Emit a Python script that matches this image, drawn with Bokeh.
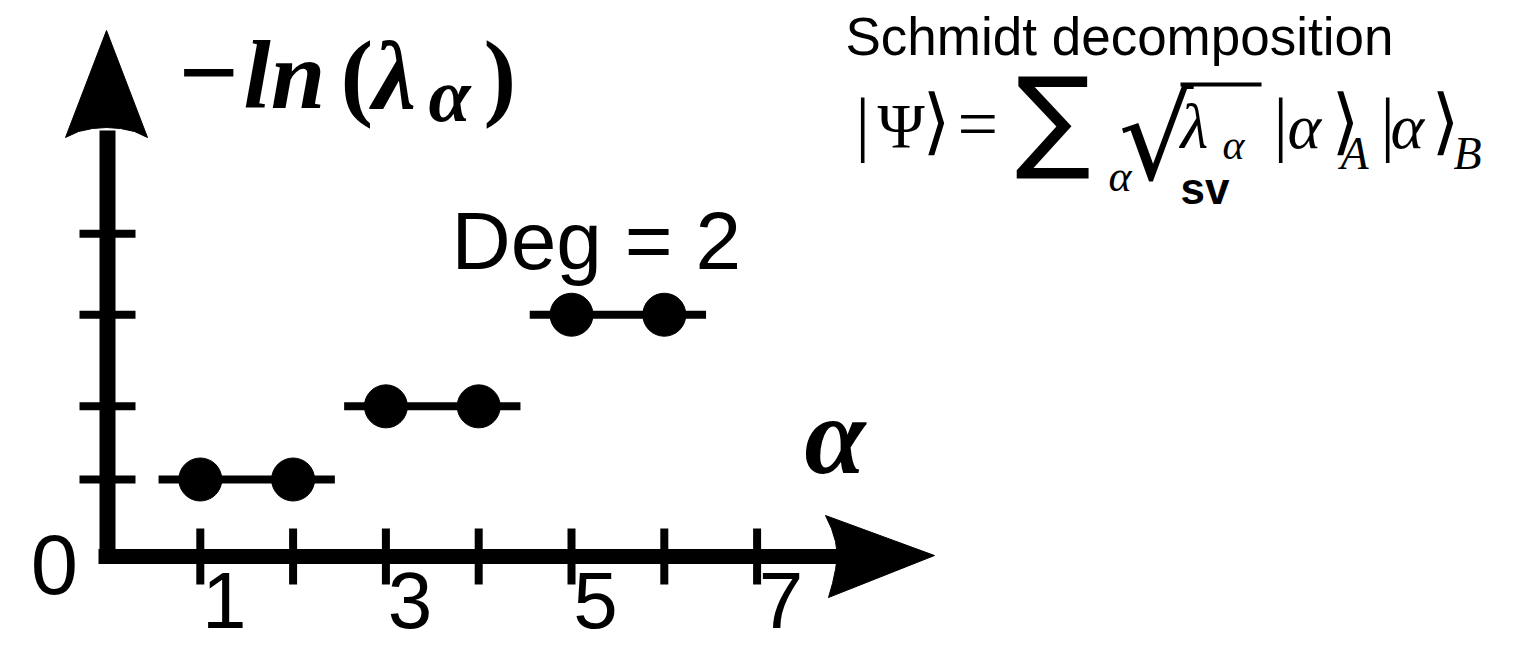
from bokeh.plotting import figure
from bokeh.models import Range1d, ColumnDataSource
from bokeh.core.properties import value
from bokeh.embed import file_html
from bokeh.resources import INLINE

# Schmidt values: each entanglement level appears twice (degeneracy 2)
alpha = [1, 2, 3, 4, 5, 6]
neg_ln_lambda = [1.0, 1.0, 1.95, 1.95, 3.14, 3.14]
degeneracy = 2

x_ticks = [1, 2, 3, 4, 5, 6, 7]
x_label_pos = [1, 3, 5, 7]
x_label_txt = ["1", "3", "5", "7"]
y_ticks = [1.0, 1.95, 3.14, 4.19]

W, H = 1532, 647
# canvas geometry: where the origin sits and how many pixels per unit
X0_PX, Y0_PX = 107.0, 556.0
UX, UY = 92.8, 77.0


def X(px):
    return (px - X0_PX) / UX


def Y(py):
    return (Y0_PX - py) / UY


p = figure(width=W, height=H, output_backend="svg", toolbar_location=None,
           x_range=Range1d(X(0), X(W)), y_range=Range1d(Y(H), Y(0)),
           x_axis_location=None, y_axis_location=None, min_border=0)
p.grid.visible = False
p.outline_line_color = None
p.background_fill_color = "white"
p.border_fill_color = "white"

# --- hand-drawn style axes -------------------------------------------------
x_end = X(838)
y_end = Y(130)
p.line([X(98), x_end], [0, 0], line_width=15, color="black", line_cap="butt")
p.line([0, 0], [Y(563), y_end], line_width=16, color="black", line_cap="butt")

# arrow heads with a slightly concave back
hx = [934, 825, 831, 835, 837, 835, 832, 828]
hy = [555, 515, 528, 541, 555, 569, 583, 597]
p.patch([X(v) for v in hx], [Y(v) for v in hy], color="black")
vx = [106, 147, 134, 120, 106, 92, 78, 65]
vy = [30, 137, 131, 128, 127, 128, 131, 137]
p.patch([X(v) for v in vx], [Y(v) for v in vy], color="black")

# tick marks
xt_half = 28 / UY
p.segment(x0=x_ticks, x1=x_ticks, y0=[-xt_half] * len(x_ticks),
          y1=[xt_half] * len(x_ticks), line_width=8, color="black")
yt_half = 28 / UX
p.segment(x0=[-yt_half] * len(y_ticks), x1=[yt_half] * len(y_ticks),
          y0=y_ticks, y1=y_ticks, line_width=8, color="black")

# --- degenerate levels -----------------------------------------------------
pad = 0.45
seg_x0, seg_x1, seg_y = [], [], []
for i in range(0, len(alpha), degeneracy):
    grp_a = alpha[i:i + degeneracy]
    seg_x0.append(min(grp_a) - pad)
    seg_x1.append(max(grp_a) + pad)
    seg_y.append(neg_ln_lambda[i])
p.segment(x0=seg_x0, x1=seg_x1, y0=seg_y, y1=seg_y, line_width=8, color="black")
p.scatter(alpha, neg_ln_lambda, size=43, color="black")

# --- text -------------------------------------------------------------------
# the svg text layer sits a bit low relative to the requested baseline;
# these per-font factors (fraction of the font size) pull it back up
LIFT = {"Liberation Sans": 0.39, "Liberation Serif": 0.33, "DejaVu Sans": 0.41}


def put(txt, px, py, size, font="Liberation Sans", style="normal",
        align="left"):
    py_adj = py - LIFT[font] * size
    p.text(x=[X(px)], y=[Y(py_adj)], text=[txt], text_font=value(font),
           text_font_size=f"{size}px", text_font_style=style,
           text_align=align, text_baseline="alphabetic", text_color="black")


# tick labels
lab_src = ColumnDataSource(dict(x=x_label_pos,
                                y=[Y(631 - LIFT["Liberation Sans"] * 80)] * len(x_label_pos),
                                t=x_label_txt))
p.text(x="x", y="y", text="t", source=lab_src, x_offset=24,
       text_font=value("Liberation Sans"), text_font_size="80px",
       text_align="center", text_baseline="alphabetic", text_color="black")
put("0", 54, 597, 85, align="center")

SB = "Liberation Serif"
put("Deg = " + str(degeneracy), 451, 272, 82)

# axis titles
put("\u2212", 175, 107, 106, SB, "bold italic")
put("ln", 243, 107, 98, SB, "bold italic")
put("\u03bb", 372, 107, 98, SB, "bold italic")
put("\u03b1", 428, 120, 76, SB, "bold italic")
put("\u03b1", 804, 472, 110, SB, "bold italic")

# Schmidt decomposition formula
put("Schmidt decomposition", 845, 57, 53)
put("|", 855, 147, 72, SB)
put("\u03a8", 877, 147, 64, SB)
put("\u27e9", 922, 150, 72, "DejaVu Sans")
put("=", 957, 147, 72, SB)
put("\u03b1", 1108, 191, 44, SB, "italic")
p.line([X(1180), X(1261)], [Y(84), Y(84)], line_width=4, color="black")
put("\u03bb", 1180, 147, 64, SB, "italic")
put("\u03b1", 1222, 158, 42, SB, "italic")
put("|", 1273, 147, 72, SB)
put("\u03b1", 1287, 147, 64, SB, "italic")
put("\u27e9", 1331, 150, 72, "DejaVu Sans")
put("A", 1340, 168, 46, SB, "italic")
put("|", 1380, 147, 72, SB)
put("\u03b1", 1390, 147, 64, SB, "italic")
put("\u27e9", 1431, 150, 72, "DejaVu Sans")
put("B", 1453, 168, 46, SB, "italic")
put("sv", 1180, 205, 44, "Liberation Sans", "bold")
put("\u2211", 1015, 163, 112, "DejaVu Sans")
put("\u221a", 1118, 186, 118, "DejaVu Sans")
put("(", 340, 107, 98, SB, "bold")
put(")", 483, 107, 98, SB, "bold")

open("out.html", "w").write(file_html(p, INLINE))
